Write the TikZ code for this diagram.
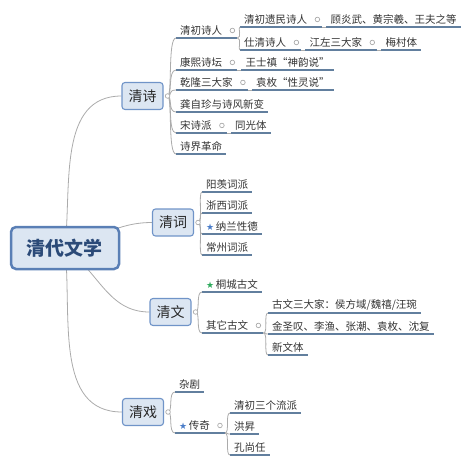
\documentclass[tikz,border=0pt]{standalone}
\usepackage{fontspec}
\setmainfont{Noto Sans CJK SC}
\newfontfamily\symfont{DejaVu Sans}
\usepackage{tikz}
\usetikzlibrary{backgrounds}

\definecolor{boxfill}{HTML}{DCE6F2}
\definecolor{boxline}{HTML}{7094C8}
\definecolor{rootline}{HTML}{5A7FB5}
\definecolor{roottext}{HTML}{2B4A78}
\definecolor{ulinecol}{HTML}{627F9E}
\definecolor{conncol}{HTML}{ABABAB}
\definecolor{leaftext}{HTML}{333333}
\definecolor{starblue}{HTML}{4A7DC9}
\definecolor{stargreen}{HTML}{2EAA5C}

\newcommand{\bstar}{{\symfont\fontsize{9}{9}\selectfont\color{starblue}★}\hspace{1.5pt}}
\newcommand{\gstar}{{\symfont\fontsize{9}{9}\selectfont\color{stargreen}★}\hspace{1.5pt}}

\begin{document}
\begin{tikzpicture}[x=1pt,y=-1pt,
    rootbox/.style={draw=rootline,line width=2.5pt,fill=boxfill,rounded corners=5pt,
        minimum width=108pt,minimum height=42pt,font=\fontsize{19}{22}\selectfont\bfseries,text=roottext},
    mainbox/.style={draw=boxline,line width=1.1pt,fill=boxfill,rounded corners=3pt,
        minimum width=41pt,minimum height=27pt,font=\fontsize{14}{16}\selectfont,text=black!85},
    underl/.style={draw=ulinecol,line width=1.4pt},
    leaf/.style={anchor=south west,inner xsep=4pt,inner ysep=2.5pt,
        font=\fontsize{10.5}{12}\selectfont,text=leaftext,
        append after command={(\tikzlastnode.south west) edge[underl] (\tikzlastnode.south east)}},
    hub/.style={leaf,
        append after command={(\tikzlastnode.south east) edge[underl] ([xshift=11pt]\tikzlastnode.south east)}},
    conn/.style={draw=conncol,line width=0.8pt},
    branch/.style={conn,to path={.. controls ([xshift=5pt]\tikztostart) and (\tikztostart |- \tikztotarget) .. (\tikztotarget)}},
    knob/.style={draw=conncol,fill=white,line width=0.7pt}]
    \useasboundingbox (0,0) rectangle (474,464);

    % Root and main topics
    \node[rootbox] (root) at (65,248) {清代文学};
    \node[mainbox] (qs) at (142.5,96) {清诗};
    \node[mainbox] (qc) at (173,222.5) {清词};
    \node[mainbox] (qw) at (170.5,312) {清文};
    \node[mainbox] (qx) at (143,412) {清戏};

    % Qing poetry
    \node[hub] (qcsr) at (176,38) {清初诗人};
    \node[hub] (ymsr) at (240,27) {清初遗民诗人};
    \node[leaf] (gyw) at ([xshift=15pt]ymsr.south east) {顾炎武、黄宗羲、王夫之等};
    \node[hub] (sqsr) at (240,50) {仕清诗人};
    \node[hub] (jzsd) at ([xshift=15pt]sqsr.south east) {江左三大家};
    \node[leaf] (mct) at ([xshift=15pt]jzsd.south east) {梅村体};
    \node[hub] (kxst) at (176,70) {康熙诗坛};
    \node[leaf] (wsz) at ([xshift=15pt]kxst.south east) {王士禛“神韵说”};
    \node[hub] (qlsd) at (176,90) {乾隆三大家};
    \node[leaf] (ym) at ([xshift=15pt]qlsd.south east) {袁枚“性灵说”};
    \node[leaf] (gzz) at (176,112) {龚自珍与诗风新变};
    \node[hub] (ssp) at (176,133) {宋诗派};
    \node[leaf] (tgt) at ([xshift=15pt]ssp.south east) {同光体};
    \node[leaf] (sjgm) at (176,154) {诗界革命};

    % Qing ci
    \node[leaf] (yxcp) at (202,192) {阳羡词派};
    \node[leaf] (zxcp) at (202,213) {浙西词派};
    \node[leaf] (nlxd) at (202,234) {\bstar 纳兰性德};
    \node[leaf] (czcp) at (202,255) {常州词派};

    % Qing prose
    \node[leaf] (tcgw) at (202,292) {\gstar 桐城古文};
    \node[hub] (qtgw) at (202,333) {其它古文};
    \node[leaf] (gwsd) at (268,313) {古文三大家：侯方域/魏禧/汪琬};
    \node[leaf] (jsh) at (268,334) {金圣叹、李渔、张潮、袁枚、沈复};
    \node[leaf] (xwt) at (268,355) {新文体};

    % Qing drama
    \node[leaf] (zj) at (175,392) {杂剧};
    \node[hub] (cq) at (175,433) {\bstar 传奇};
    \node[leaf] (sglp) at (230,413) {清初三个流派};
    \node[leaf] (hs) at (230,434) {洪昇};
    \node[leaf] (ksr) at (230,455) {孔尚任};

    % Connectors
    \begin{scope}[on background layer]
        \draw[conn] (root.center) to[out=84,in=180] (qs.west);
        \draw[conn] (root.center) to[out=15,in=180] (qc.west);
        \draw[conn] (root.center) to[out=-35,in=180] (qw.west);
        \draw[conn] (root.center) to[out=-84,in=180] (qx.west);
    \end{scope}
    \foreach \c in {qcsr,kxst,qlsd,gzz,ssp,sjgm}
        \draw[branch] ([xshift=4pt]qs.east) to (\c.south west);
    \foreach \c in {yxcp,zxcp,nlxd,czcp}
        \draw[branch] ([xshift=4pt]qc.east) to (\c.south west);
    \foreach \c in {tcgw,qtgw}
        \draw[branch] ([xshift=4pt]qw.east) to (\c.south west);
    \foreach \c in {zj,cq}
        \draw[branch] ([xshift=4pt]qx.east) to (\c.south west);
    \foreach \c in {ymsr,sqsr}
        \draw[branch] ([xshift=11pt]qcsr.south east) to (\c.south west);
    \foreach \c in {gwsd,jsh,xwt}
        \draw[branch] ([xshift=11pt]qtgw.south east) to (\c.south west);
    \foreach \c in {sglp,hs,ksr}
        \draw[branch] ([xshift=11pt]cq.south east) to (\c.south west);
    \draw[conn] ([xshift=11pt]ymsr.south east) -- (gyw.south west);
    \draw[conn] ([xshift=11pt]sqsr.south east) -- (jzsd.south west);
    \draw[conn] ([xshift=11pt]jzsd.south east) -- (mct.south west);
    \draw[conn] ([xshift=11pt]kxst.south east) -- (wsz.south west);
    \draw[conn] ([xshift=11pt]qlsd.south east) -- (ym.south west);
    \draw[conn] ([xshift=11pt]ssp.south east) -- (tgt.south west);

    % Collapse knobs
    \foreach \n in {qs,qc,qw,qx}
        \draw[knob] ([xshift=4pt]\n.east) circle[radius=2.3pt];
    \foreach \n in {qcsr,ymsr,sqsr,jzsd,kxst,qlsd,ssp,qtgw,cq}
        \draw[knob] ([xshift=6pt]\n.east) circle[radius=2.3pt];
\end{tikzpicture}
\end{document}
